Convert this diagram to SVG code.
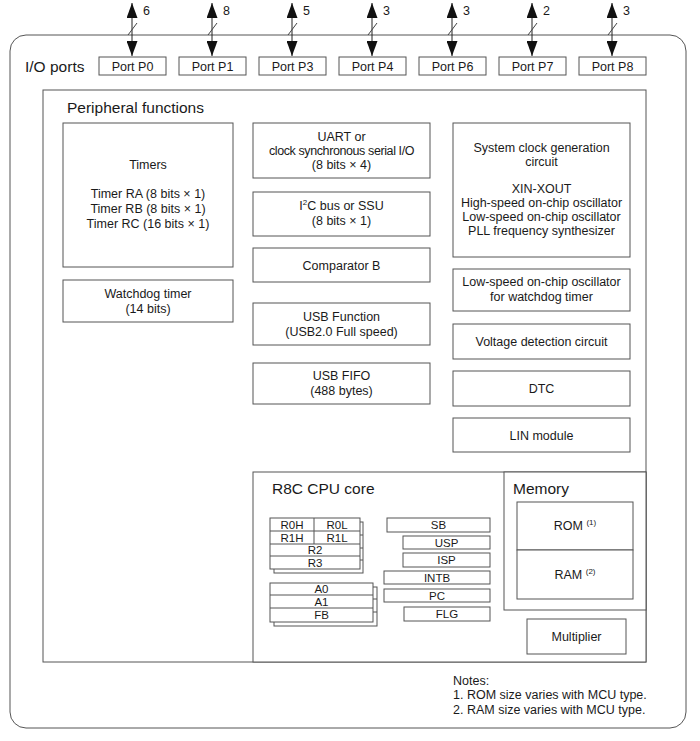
<svg xmlns="http://www.w3.org/2000/svg" width="700" height="741" viewBox="0 0 700 741">
<style>
  text { font-family: "Liberation Sans", Arial, sans-serif; fill: #1a1a1a; }
  .b { fill: #ffffff; stroke: #555555; stroke-width: 1; }
  .ln { stroke: #555555; stroke-width: 1; fill: none; }
  .t { font-size: 12.5px; text-anchor: middle; }
  .r { font-size: 11.5px; text-anchor: middle; }
  .h { font-size: 15.5px; }
  .n { font-size: 12.5px; }
  .arr { stroke: #222222; stroke-width: 1; fill: none; }
  .slash { stroke: #444444; stroke-width: 1; }
</style>
<defs>
  <marker id="ah" viewBox="0 0 15 11" refX="15" refY="5.5" markerWidth="15" markerHeight="11" markerUnits="userSpaceOnUse" orient="auto">
    <path d="M0,0 L15,5.5 L0,11 Z" fill="#111111"/>
  </marker>
</defs>
<rect width="700" height="741" fill="#ffffff"/>

<g id="mcu">
  <rect class="b" x="10" y="35" width="676" height="693" rx="16"/>
  <text class="h" x="25" y="72">I/O ports</text>
</g>

<g id="ports">
  <g id="port-p0"><rect class="b" x="99" y="57" width="67" height="18"/><text class="t" x="132.5" y="70.5">Port P0</text></g>
  <g id="port-p1"><rect class="b" x="179" y="57" width="67" height="18"/><text class="t" x="212.5" y="70.5">Port P1</text></g>
  <g id="port-p3"><rect class="b" x="259" y="57" width="67" height="18"/><text class="t" x="292.5" y="70.5">Port P3</text></g>
  <g id="port-p4"><rect class="b" x="339" y="57" width="67" height="18"/><text class="t" x="372.5" y="70.5">Port P4</text></g>
  <g id="port-p6"><rect class="b" x="419" y="57" width="67" height="18"/><text class="t" x="452.5" y="70.5">Port P6</text></g>
  <g id="port-p7"><rect class="b" x="499" y="57" width="67" height="18"/><text class="t" x="532.5" y="70.5">Port P7</text></g>
  <g id="port-p8"><rect class="b" x="579" y="57" width="67" height="18"/><text class="t" x="612.5" y="70.5">Port P8</text></g>
</g>

<g id="connectors">
  <g id="c-p0"><line class="arr" x1="132" y1="30" x2="132" y2="3" marker-end="url(#ah)"/><line class="arr" x1="132" y1="30" x2="132" y2="56" marker-end="url(#ah)"/><line class="slash" x1="128" y1="35" x2="137" y2="23"/><text class="n" x="143" y="15">6</text></g>
  <g id="c-p1"><line class="arr" x1="212" y1="30" x2="212" y2="3" marker-end="url(#ah)"/><line class="arr" x1="212" y1="30" x2="212" y2="56" marker-end="url(#ah)"/><line class="slash" x1="208" y1="35" x2="217" y2="23"/><text class="n" x="223" y="15">8</text></g>
  <g id="c-p3"><line class="arr" x1="292" y1="30" x2="292" y2="3" marker-end="url(#ah)"/><line class="arr" x1="292" y1="30" x2="292" y2="56" marker-end="url(#ah)"/><line class="slash" x1="288" y1="35" x2="297" y2="23"/><text class="n" x="303" y="15">5</text></g>
  <g id="c-p4"><line class="arr" x1="372" y1="30" x2="372" y2="3" marker-end="url(#ah)"/><line class="arr" x1="372" y1="30" x2="372" y2="56" marker-end="url(#ah)"/><line class="slash" x1="368" y1="35" x2="377" y2="23"/><text class="n" x="383" y="15">3</text></g>
  <g id="c-p6"><line class="arr" x1="452" y1="30" x2="452" y2="3" marker-end="url(#ah)"/><line class="arr" x1="452" y1="30" x2="452" y2="56" marker-end="url(#ah)"/><line class="slash" x1="448" y1="35" x2="457" y2="23"/><text class="n" x="463" y="15">3</text></g>
  <g id="c-p7"><line class="arr" x1="532" y1="30" x2="532" y2="3" marker-end="url(#ah)"/><line class="arr" x1="532" y1="30" x2="532" y2="56" marker-end="url(#ah)"/><line class="slash" x1="528" y1="35" x2="537" y2="23"/><text class="n" x="543" y="15">2</text></g>
  <g id="c-p8"><line class="arr" x1="612" y1="30" x2="612" y2="3" marker-end="url(#ah)"/><line class="arr" x1="612" y1="30" x2="612" y2="56" marker-end="url(#ah)"/><line class="slash" x1="608" y1="35" x2="617" y2="23"/><text class="n" x="623" y="15">3</text></g>
</g>

<g id="peripheral-functions">
  <rect class="b" x="43" y="90" width="603" height="572"/>
  <text class="h" x="67" y="113">Peripheral functions</text>
</g>

<g id="timers">
  <rect class="b" x="63" y="123" width="170" height="144"/>
  <text class="t" x="148" y="169">Timers</text>
  <text class="t" x="148" y="198">Timer RA (8 bits × 1)</text>
  <text class="t" x="148" y="213">Timer RB (8 bits × 1)</text>
  <text class="t" x="148" y="228">Timer RC (16 bits × 1)</text>
</g>
<g id="watchdog">
  <rect class="b" x="63" y="280" width="170" height="42"/>
  <text class="t" x="148" y="298">Watchdog timer</text>
  <text class="t" x="148" y="313">(14 bits)</text>
</g>

<g id="uart">
  <rect class="b" x="253" y="123" width="177" height="55"/>
  <text class="t" x="341.5" y="141">UART or</text>
  <text class="t" x="341.5" y="155" letter-spacing="-0.4">clock synchronous serial I/O</text>
  <text class="t" x="341.5" y="169">(8 bits × 4)</text>
</g>
<g id="i2c">
  <rect class="b" x="253" y="192" width="177" height="44"/>
  <text class="t" x="341.5" y="210">I<tspan font-size="8" dy="-5">2</tspan><tspan dy="5">C bus or SSU</tspan></text>
  <text class="t" x="341.5" y="225">(8 bits × 1)</text>
</g>
<g id="comparator">
  <rect class="b" x="253" y="248" width="177" height="34"/>
  <text class="t" x="341.5" y="270">Comparator B</text>
</g>
<g id="usb-function">
  <rect class="b" x="253" y="303" width="177" height="42"/>
  <text class="t" x="341.5" y="321">USB Function</text>
  <text class="t" x="341.5" y="336">(USB2.0 Full speed)</text>
</g>
<g id="usb-fifo">
  <rect class="b" x="253" y="363" width="177" height="41"/>
  <text class="t" x="341.5" y="380">USB FIFO</text>
  <text class="t" x="341.5" y="395">(488 bytes)</text>
</g>

<g id="sysclock">
  <rect class="b" x="453" y="123" width="177" height="134"/>
  <text class="t" x="541.5" y="152">System clock generation</text>
  <text class="t" x="541.5" y="166">circuit</text>
  <text class="t" x="541.5" y="193">XIN-XOUT</text>
  <text class="t" x="541.5" y="207">High-speed on-chip oscillator</text>
  <text class="t" x="541.5" y="221">Low-speed on-chip oscillator</text>
  <text class="t" x="541.5" y="235">PLL frequency synthesizer</text>
</g>
<g id="lowspeed-wdt">
  <rect class="b" x="453" y="269" width="177" height="42"/>
  <text class="t" x="541.5" y="286">Low-speed on-chip oscillator</text>
  <text class="t" x="541.5" y="301">for watchdog timer</text>
</g>
<g id="voltage">
  <rect class="b" x="453" y="324" width="177" height="35"/>
  <text class="t" x="541.5" y="346">Voltage detection circuit</text>
</g>
<g id="dtc">
  <rect class="b" x="453" y="371" width="177" height="35"/>
  <text class="t" x="541.5" y="393">DTC</text>
</g>
<g id="lin">
  <rect class="b" x="453" y="418" width="177" height="34"/>
  <text class="t" x="541.5" y="440">LIN module</text>
</g>

<g id="cpu-core">
  <rect class="b" x="253" y="472" width="393" height="190"/>
  <text class="h" x="272" y="494">R8C CPU core</text>
</g>

<g id="reg-r">
  <rect class="b" x="274" y="522" width="89" height="51"/>
  <line class="ln" x1="360" y1="535" x2="363" y2="535"/>
  <line class="ln" x1="360" y1="548" x2="363" y2="548"/>
  <line class="ln" x1="360" y1="560" x2="363" y2="560"/>
  <rect class="b" x="270" y="518" width="90" height="51"/>
  <line class="ln" x1="270" y1="531" x2="360" y2="531"/>
  <line class="ln" x1="270" y1="544" x2="360" y2="544"/>
  <line class="ln" x1="270" y1="556" x2="360" y2="556"/>
  <line class="ln" x1="314" y1="518" x2="314" y2="544"/>
  <text class="r" x="292" y="529">R0H</text>
  <text class="r" x="337" y="529">R0L</text>
  <text class="r" x="292" y="542">R1H</text>
  <text class="r" x="337" y="542">R1L</text>
  <text class="r" x="315" y="554">R2</text>
  <text class="r" x="315" y="567">R3</text>
</g>
<g id="reg-a">
  <rect class="b" x="274" y="587" width="103" height="39"/>
  <line class="ln" x1="373" y1="599" x2="377" y2="599"/>
  <line class="ln" x1="373" y1="612" x2="377" y2="612"/>
  <rect class="b" x="270" y="583" width="103" height="39"/>
  <line class="ln" x1="270" y1="595" x2="373" y2="595"/>
  <line class="ln" x1="270" y1="608" x2="373" y2="608"/>
  <text class="r" x="321.5" y="593">A0</text>
  <text class="r" x="321.5" y="606">A1</text>
  <text class="r" x="321.5" y="619">FB</text>
</g>
<g id="reg-sb"><rect class="b" x="387" y="518" width="103" height="14"/><text class="r" x="438.5" y="529">SB</text></g>
<g id="reg-usp"><rect class="b" x="403" y="536" width="87" height="13"/><text class="r" x="446.5" y="546.5">USP</text></g>
<g id="reg-isp"><rect class="b" x="403" y="553" width="87" height="14"/><text class="r" x="446.5" y="564">ISP</text></g>
<g id="reg-intb"><rect class="b" x="384" y="571" width="106" height="13"/><text class="r" x="437" y="581.5">INTB</text></g>
<g id="reg-pc"><rect class="b" x="384" y="589" width="106" height="13"/><text class="r" x="437" y="599.5">PC</text></g>
<g id="reg-flg"><rect class="b" x="404" y="607" width="86" height="14"/><text class="r" x="447" y="618">FLG</text></g>

<g id="memory">
  <rect class="b" x="504" y="472" width="142" height="138"/>
  <text class="h" x="513" y="494">Memory</text>
</g>
<g id="rom">
  <rect class="b" x="517" y="502" width="116" height="48"/>
  <text class="t" x="575" y="530">ROM <tspan font-size="8" dy="-5">(1)</tspan></text>
</g>
<g id="ram">
  <rect class="b" x="517" y="550" width="116" height="49"/>
  <text class="t" x="575" y="579">RAM <tspan font-size="8" dy="-5">(2)</tspan></text>
</g>
<g id="multiplier">
  <rect class="b" x="527" y="619" width="99" height="35"/>
  <text class="t" x="576.5" y="641">Multiplier</text>
</g>

<g id="notes">
  <text class="n" x="453" y="685">Notes:</text>
  <text class="n" x="453" y="699">1. ROM size varies with MCU type.</text>
  <text class="n" x="453" y="714">2. RAM size varies with MCU type.</text>
</g>
</svg>
